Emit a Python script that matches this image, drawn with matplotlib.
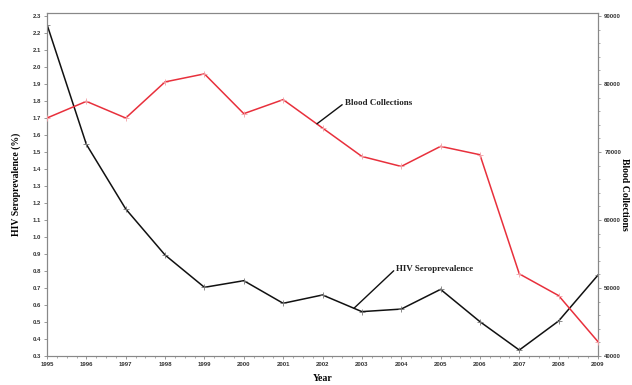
import matplotlib
matplotlib.use("Agg")
import matplotlib.pyplot as plt
from matplotlib.ticker import MultipleLocator, AutoMinorLocator

years = [1995, 1996, 1997, 1998, 1999, 2000, 2001, 2002, 2003, 2004, 2005, 2006, 2007, 2008, 2009]
hiv = [2.25, 1.545, 1.165, 0.894, 0.704, 0.743, 0.610, 0.659, 0.561, 0.576, 0.692, 0.502, 0.335, 0.506, 0.776]
blood = [75000, 77450, 75000, 80310, 81490, 75640, 77700, 73530, 69350, 67880, 70830, 69600, 52080, 48880, 42100]

fig = plt.figure(figsize=(6.32, 3.85), dpi=100)
ax = fig.add_axes([47/632, 1-356/385, (598-47)/632, (356-13)/385])
ax2 = ax.twinx()

tick_font = dict(family="Liberation Sans", weight="bold", size=4.3)
label_font = dict(family="Liberation Serif", weight="bold", size=7)

ax.plot(years, hiv, color="#111111", lw=1.1, marker="+", ms=5, mew=0.6, mec="#777777", zorder=3)
ax2.plot(years, blood, color="#e8303c", lw=1.1, marker="+", ms=5, mew=0.6, mec="#f2a0a6", zorder=3)

ax.set_xlim(1995, 2009)
ax.set_ylim(0.3, 2.3 + 3/170)
ax2.set_ylim(40000, 90000 + 3/67.9*10000)

ax.xaxis.set_minor_locator(AutoMinorLocator(4))
ax2.yaxis.set_minor_locator(AutoMinorLocator(5))

ax.set_xticks(years)
ax.set_xticklabels([str(y) for y in years], **tick_font)
ax.set_yticks([round(0.3 + 0.1*i, 1) for i in range(21)])
ax.set_yticklabels([f"{0.3 + 0.1*i:.1f}" for i in range(21)], **tick_font)
ax2.set_yticks([40000, 50000, 60000, 70000, 80000, 90000])
ax2.set_yticklabels(["40000", "50000", "60000", "70000", "80000", "90000"], **tick_font)

for a in (ax, ax2):
    for s in a.spines.values():
        s.set_color("#888888")
        s.set_linewidth(0.8)
    a.tick_params(axis="both", which="major", length=2.5, width=0.6, color="#888888", pad=2, labelcolor="#333333")
    a.tick_params(axis="both", which="minor", length=1.5, width=0.5, color="#888888")
ax.spines["bottom"].set_color("#aaaaaa")

ax.set_xlabel("Year", labelpad=5, **label_font)
ax.set_ylabel("HIV Seroprevalence (%)", labelpad=8, **label_font)
ax2.set_ylabel("Blood Collections", rotation=270, va="center", **label_font)
ax2.yaxis.set_label_coords((625 - 47) / 551, 0.47)

ax2.annotate("Blood Collections", xy=(2001.86, 74150), xytext=(2002.57, 77260),
             fontsize=6.5, family="Liberation Serif", weight="bold", color="#222222",
             va="center", ha="left",
             arrowprops=dict(arrowstyle="-", color="#111111", lw=1.0, shrinkA=0, shrinkB=0,
                             relpos=(0, 0.5)))
ax.annotate("HIV Seroprevalence", xy=(2002.8, 0.581), xytext=(2003.88, 0.812),
            fontsize=6.5, family="Liberation Serif", weight="bold", color="#222222",
            va="center", ha="left",
            arrowprops=dict(arrowstyle="-", color="#111111", lw=1.0, shrinkA=0, shrinkB=0,
                            relpos=(0, 0.6)))

fig.savefig("out.png", dpi=100)
